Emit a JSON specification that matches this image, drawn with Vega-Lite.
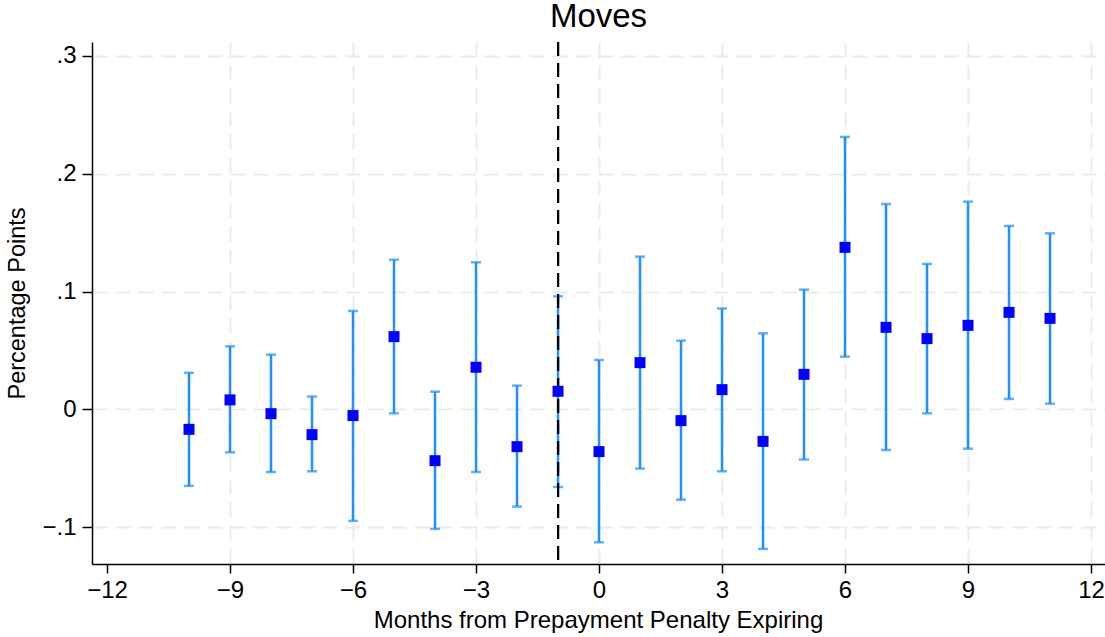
{
  "$schema": "https://vega.github.io/schema/vega-lite/v6.json",
  "width": 1013,
  "height": 522,
  "autosize": {"type": "none"},
  "padding": {"left": 92, "top": 42, "right": 0, "bottom": 73},
  "background": "white",
  "title": {
    "text": "Moves",
    "font": "Liberation Sans",
    "fontSize": 33,
    "fontWeight": "normal",
    "color": "black",
    "baseline": "alphabetic",
    "offset": -19
  },
  "config": {
    "view": {"stroke": null},
    "font": "Liberation Sans"
  },
  "data": {
    "values": [
      {"month": -10, "b": -0.0170, "lo": -0.0650, "hi": 0.0310},
      {"month": -9, "b": 0.0080, "lo": -0.0365, "hi": 0.0535},
      {"month": -8, "b": -0.0037, "lo": -0.0532, "hi": 0.0464},
      {"month": -7, "b": -0.0215, "lo": -0.0526, "hi": 0.0108},
      {"month": -6, "b": -0.0053, "lo": -0.0947, "hi": 0.0835},
      {"month": -5, "b": 0.0617, "lo": -0.0034, "hi": 0.1270},
      {"month": -4, "b": -0.0436, "lo": -0.1015, "hi": 0.0150},
      {"month": -3, "b": 0.0357, "lo": -0.0532, "hi": 0.1248},
      {"month": -2, "b": -0.0317, "lo": -0.0826, "hi": 0.0201},
      {"month": -1, "b": 0.0153, "lo": -0.0659, "hi": 0.0959},
      {"month": 0, "b": -0.0359, "lo": -0.1129, "hi": 0.0419},
      {"month": 1, "b": 0.0396, "lo": -0.0503, "hi": 0.1296},
      {"month": 2, "b": -0.0096, "lo": -0.0767, "hi": 0.0583},
      {"month": 3, "b": 0.0167, "lo": -0.0526, "hi": 0.0856},
      {"month": 4, "b": -0.0272, "lo": -0.1185, "hi": 0.0645},
      {"month": 5, "b": 0.0297, "lo": -0.0426, "hi": 0.1016},
      {"month": 6, "b": 0.1375, "lo": 0.0447, "hi": 0.2312},
      {"month": 7, "b": 0.0696, "lo": -0.0345, "hi": 0.1743},
      {"month": 8, "b": 0.0600, "lo": -0.0034, "hi": 0.1234},
      {"month": 9, "b": 0.0713, "lo": -0.0334, "hi": 0.1763},
      {"month": 10, "b": 0.0823, "lo": 0.0088, "hi": 0.1557},
      {"month": 11, "b": 0.0772, "lo": 0.0048, "hi": 0.1494}
    ]
  },
  "encoding": {
    "x": {
      "field": "month",
      "type": "quantitative",
      "scale": {"domain": [-12.366, 12.341], "nice": false, "zero": false},
      "axis": {
        "values": [-12, -9, -6, -3, 0, 3, 6, 9, 12],
        "format": "d",
        "labelFlush": false,
        "labelFont": "Liberation Sans",
        "labelFontSize": 24,
        "labelColor": "black",
        "labelBaseline": "alphabetic",
        "labelPadding": 24,
        "tickSize": 9,
        "tickWidth": 1.5,
        "tickColor": "black",
        "domainColor": "black",
        "domainWidth": 1.5,
        "grid": true,
        "gridColor": "#ebebeb",
        "gridWidth": 2,
        "gridDash": [15, 8],
        "gridOpacity": {"condition": {"test": "datum.value === -12", "value": 0}, "value": 1},
        "title": "Months from Prepayment Penalty Expiring",
        "titleFont": "Liberation Sans",
        "titleFontSize": 24,
        "titleFontWeight": "normal",
        "titleColor": "black",
        "titleBaseline": "alphabetic",
        "titleX": 506,
        "titleY": 63
      }
    }
  },
  "layer": [
    {
      "mark": {"type": "rule", "color": "black", "strokeWidth": 2, "strokeDash": [14, 7]},
      "encoding": {
        "y": {
          "datum": 0,
          "type": "quantitative",
          "scale": {"domain": [-0.1313, 0.3118], "nice": false, "zero": false},
          "axis": {
            "values": [-0.1, 0, 0.1, 0.2, 0.3],
            "labelExpr": "datum.value == 0 ? '0' : replace(format(datum.value, '.1f'), '0.', '.')",
            "labelFlush": false,
            "labelFont": "Liberation Sans",
            "labelFontSize": 24,
            "labelColor": "black",
            "labelBaseline": "middle",
            "labelPadding": 6,
            "tickSize": 10,
            "tickWidth": 1.5,
            "tickColor": "black",
            "domainColor": "black",
            "domainWidth": 1.5,
            "grid": true,
            "gridColor": "#ebebeb",
            "gridWidth": 2,
            "gridDash": [15, 8],
            "title": "Percentage Points",
            "titleFont": "Liberation Sans",
            "titleFontSize": 23.5,
            "titleFontWeight": "normal",
            "titleColor": "black",
            "titleAngle": 270,
            "titleBaseline": "alphabetic",
            "titleAlign": "center",
            "titleX": -68,
            "titleY": 261
          }
        }
      }
    },
    {
      "mark": {"type": "rule", "color": "#1E90FF", "strokeWidth": 2.5},
      "encoding": {
        "y": {"field": "lo", "type": "quantitative"},
        "y2": {"field": "hi"}
      }
    },
    {
      "mark": {"type": "tick", "orient": "horizontal", "color": "#1E90FF", "size": 10, "thickness": 2.5},
      "encoding": {"y": {"field": "lo", "type": "quantitative"}}
    },
    {
      "mark": {"type": "tick", "orient": "horizontal", "color": "#1E90FF", "size": 10, "thickness": 2.5},
      "encoding": {"y": {"field": "hi", "type": "quantitative"}}
    },
    {
      "mark": {"type": "rule", "color": "black", "strokeWidth": 2, "strokeDash": [14, 7]},
      "encoding": {"x": {"datum": -1, "type": "quantitative"}}
    },
    {
      "mark": {"type": "square", "size": 121, "filled": true, "color": "#0000FF", "opacity": 1},
      "encoding": {"y": {"field": "b", "type": "quantitative"}}
    }
  ]
}
